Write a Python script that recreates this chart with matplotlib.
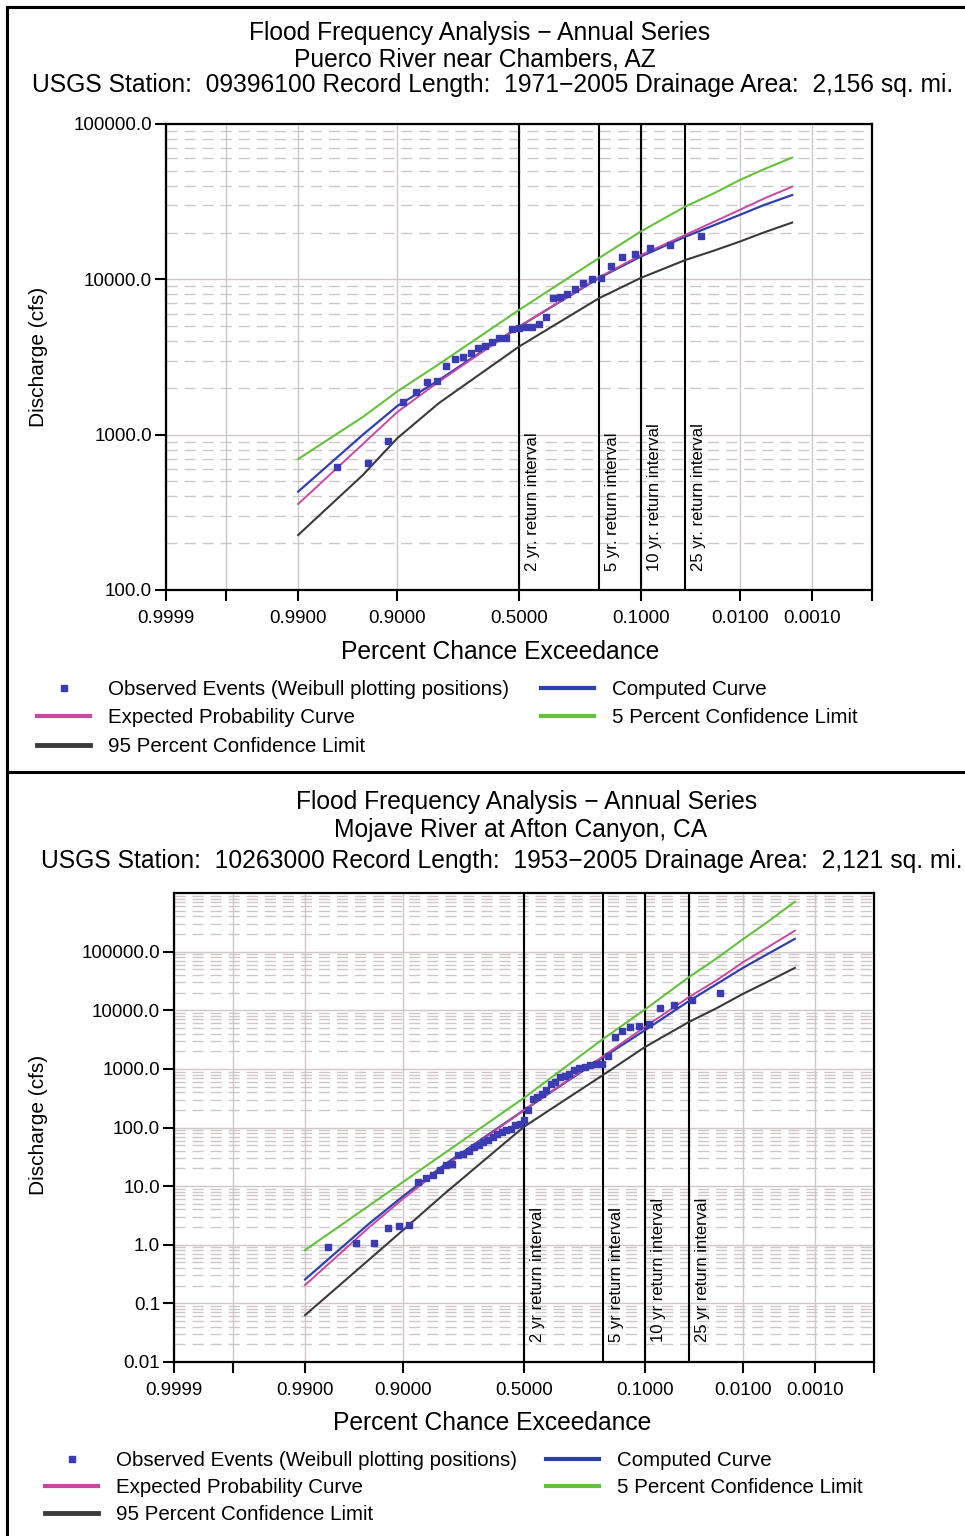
import numpy as np
import matplotlib
matplotlib.use('Agg')
import matplotlib.pyplot as plt
from matplotlib.lines import Line2D
from matplotlib.ticker import FixedLocator, FixedFormatter, LogLocator, NullFormatter
from matplotlib.transforms import blended_transform_factory, offset_copy
from statistics import NormalDist

plt.rcParams['font.family'] = ['Liberation Sans', 'DejaVu Sans']

# ---------------- data ----------------
curve_p = [0.99, 0.95, 0.9, 0.8, 0.5, 0.2, 0.1, 0.04, 0.02, 0.01, 0.005, 0.002]

# Puerco River near Chambers, AZ
top_obs_p = [0.0278, 0.0556, 0.0833, 0.1111, 0.1389, 0.1667, 0.1944, 0.2222, 0.2500,
             0.2778, 0.3056, 0.3333, 0.3611, 0.3889, 0.4167, 0.4444, 0.4722, 0.5000,
             0.5278, 0.5556, 0.5833, 0.6111, 0.6389, 0.6667, 0.6944, 0.7222, 0.7500,
             0.7778, 0.8056, 0.8333, 0.8611, 0.8889, 0.9167, 0.9444, 0.9722]
top_obs_q = [19000, 16600, 15850, 14600, 13900, 12250, 10150, 10100, 9440,
             8630, 8050, 7740, 7560, 5760, 5170, 4950, 4900, 4850,
             4800, 4200, 4170, 3970, 3720, 3600, 3340, 3180, 3060,
             2770, 2200, 2170, 1890, 1630, 915, 660, 622]
top_computed = [430, 1000, 1530, 2250, 4950, 10200, 14000, 18800, 22300, 26000, 30000, 34900]
top_expected = [358, 870, 1400, 2200, 4950, 10300, 14300, 19300, 23500, 28000, 33000, 39500]
top_conf05 = [697, 1300, 1900, 2850, 6350, 13700, 20300, 29400, 35800, 43600, 51000, 60800]
top_conf95 = [226, 550, 950, 1600, 3690, 7550, 10200, 13300, 15300, 17500, 20000, 23200]

# Mojave River at Afton Canyon, CA
bot_obs_p = [0.0185, 0.0370, 0.0556, 0.0741, 0.0926, 0.1111, 0.1296, 0.1481, 0.1667,
             0.1852, 0.2037, 0.2222, 0.2407, 0.2593, 0.2778, 0.2963, 0.3148, 0.3333,
             0.3519, 0.3704, 0.3889, 0.4074, 0.4259, 0.4444, 0.4630, 0.4815, 0.5000,
             0.5185, 0.5370, 0.5556, 0.5741, 0.5926, 0.6111, 0.6296, 0.6481, 0.6667,
             0.6852, 0.7037, 0.7222, 0.7407, 0.7593, 0.7778, 0.7963, 0.8148, 0.8333,
             0.8519, 0.8704, 0.8889, 0.9074, 0.9259, 0.9444, 0.9630, 0.9815]
bot_obs_q = [19500, 15100, 12500, 11000, 5880, 5350, 5140, 4390, 3470,
             1630, 1230, 1200, 1150, 1072, 1047, 950, 826, 760,
             724, 595, 550, 430, 380, 330, 310, 196, 136,
             116, 109, 95.5, 90, 83.8, 78.5, 68.8, 62, 56.5,
             50, 46.5, 40, 35.9, 33.5, 24, 22.6, 18.6, 15.3,
             13.5, 11.8, 2.14, 2.07, 1.94, 1.07, 1.07, 0.92]
bot_computed = [0.256, 2.3, 6.8, 23.4, 198, 1580, 4520, 14300, 28400, 52800, 88700, 165000]
bot_expected = [0.205, 1.99, 6.15, 21.8, 198, 1650, 5150, 16700, 33000, 65800, 115000, 228000]
bot_conf05 = [0.81, 4.67, 11.9, 36.8, 320, 3250, 10200, 36500, 78000, 163000, 310000, 710000]
bot_conf95 = [0.063, 0.56, 1.8, 7.5, 103, 790, 2340, 6300, 11000, 19000, 30000, 52800]

x_ticks = [0.9999, 0.999, 0.99, 0.9, 0.5, 0.1, 0.01, 0.001, 0.0001]
x_labels = ['0.9999', '', '0.9900', '0.9000', '0.5000', '0.1000', '0.0100', '0.0010', '']
ri_p = [0.5, 0.2, 0.1, 0.04]
top_ri_labels = ['2 yr. return interval', '5 yr. return interval',
                 '10 yr. return interval', '25 yr. return interval']
bot_ri_labels = ['2 yr return interval', '5 yr return interval',
                 '10 yr return interval', '25 yr return interval']

top_yticks = [100, 1000, 10000, 100000]
top_ylabels = ['100.0', '1000.0', '10000.0', '100000.0']
bot_yticks = [0.01, 0.1, 1, 10, 100, 1000, 10000, 100000]
bot_ylabels = ['0.01', '0.1', '1.0', '10.0', '100.0', '1000.0', '10000.0', '100000.0']

top_title = ['Flood Frequency Analysis \u2212 Annual Series',
             'Puerco River near Chambers, AZ',
             'USGS Station:  09396100 Record Length:  1971\u22122005 Drainage Area:  2,156 sq. mi.']
bot_title = ['Flood Frequency Analysis \u2212 Annual Series',
             'Mojave River at Afton Canyon, CA',
             'USGS Station:  10263000 Record Length:  1953\u22122005 Drainage Area:  2,121 sq. mi.']

legend_labels = ['Observed Events (Weibull plotting positions)', 'Expected Probability Curve',
                 '95 Percent Confidence Limit', 'Computed Curve', '5 Percent Confidence Limit']

# ---------------- style ----------------
C_OBS = '#3b3bb3'
C_COMP = '#2e3fae'
C_EXP = '#c8489f'
C_C05 = '#63c23c'
C_C95 = '#3a3a3a'
GRID = '#cfc6c6'

W, H = 965, 1536
fig = plt.figure(figsize=(W / 100, H / 100), dpi=100)
fig.patch.set_facecolor('white')


def fx(x):
    return x / W


def fy(y):
    return 1 - y / H


ND = NormalDist()


def fwd(p):
    p = np.clip(np.asarray(p, dtype=float), 1e-9, 1 - 1e-9)
    return np.vectorize(ND.inv_cdf, otypes=[float])(p)


def inv(z):
    return np.vectorize(ND.cdf, otypes=[float])(np.asarray(z, dtype=float))


def panel(left, top, right, bottom, ylim, yticks, ylabels, obs_p, obs_q,
          comp, expc, c05, c95, ri_labels, ri_yfrac, titles, title_pos,
          ylab_pos, xlab_pos, leg1_pos, leg2_pos, leg_pitch):
    ax = fig.add_axes([fx(left), fy(bottom), fx(right - left), (bottom - top) / H])
    ax.set_xscale('function', functions=(fwd, inv))
    ax.set_yscale('log')
    ax.set_xlim(0.9999, 0.0001)
    ax.set_ylim(*ylim)
    ax.xaxis.set_major_locator(FixedLocator(x_ticks))
    ax.xaxis.set_major_formatter(FixedFormatter(x_labels))
    ax.xaxis.set_minor_locator(FixedLocator([]))
    ax.yaxis.set_major_locator(FixedLocator(yticks))
    ax.yaxis.set_major_formatter(FixedFormatter(ylabels))
    ax.yaxis.set_minor_locator(LogLocator(base=10, subs=np.arange(2, 10), numticks=50))
    ax.yaxis.set_minor_formatter(NullFormatter())
    ax.tick_params(which='major', direction='out', length=8, width=1.5, labelsize=13.5,
                   colors='black')
    ax.tick_params(axis='x', which='major', pad=6.5)
    ax.tick_params(axis='y', which='major', pad=2)
    ax.tick_params(which='minor', length=0)
    ax.grid(which='major', axis='both', color=GRID, lw=1.0, ls='-')
    ax.grid(which='minor', axis='y', color=GRID, lw=1.0, ls=(0, (8, 5)))
    ax.set_axisbelow(True)
    for s in ax.spines.values():
        s.set_linewidth(1.6)
        s.set_color('black')

    # return interval lines
    trans = blended_transform_factory(ax.transData, ax.transAxes)
    for p, lab in zip(ri_p, ri_labels):
        ax.axvline(p, color='black', lw=1.5, zorder=2)
        ax.text(p, ri_yfrac, lab, rotation=90, ha='left', va='bottom', fontsize=12,
                transform=offset_copy(trans, fig=fig, x=6, y=0, units='dots'), zorder=3)

    ax.plot(curve_p, c95, color=C_C95, lw=1.5, zorder=4)
    ax.plot(curve_p, c05, color=C_C05, lw=1.5, zorder=4)
    ax.plot(curve_p, comp, color=C_COMP, lw=1.6, zorder=5)
    ax.plot(curve_p, expc, color=C_EXP, lw=1.4, zorder=5)
    ax.plot(obs_p, obs_q, ls='none', marker='s', ms=5, color=C_OBS, mec=C_OBS, zorder=6)

    for (tx, ty), t in zip(title_pos, titles):
        fig.text(fx(tx), fy(ty), t, ha='center', va='center', fontsize=17.7)
    fig.text(fx(ylab_pos[0]), fy(ylab_pos[1]), 'Discharge (cfs)', rotation=90,
             ha='center', va='center', fontsize=15)
    fig.text(fx(xlab_pos[0]), fy(xlab_pos[1]), 'Percent Chance Exceedance',
             ha='center', va='center', fontsize=17.7)

    h_obs = Line2D([], [], ls='none', marker='s', ms=4, color=C_OBS)
    h_exp = Line2D([], [], color=C_EXP, lw=3)
    h_c95 = Line2D([], [], color=C_C95, lw=3.5)
    h_comp = Line2D([], [], color=C_COMP, lw=3)
    h_c05 = Line2D([], [], color=C_C05, lw=3)
    fs = 14.75
    fpx = fs * 100 / 72
    kw = dict(frameon=False, fontsize=fs, borderpad=0, borderaxespad=0,
              handlelength=53 / fpx, handletextpad=18 / fpx,
              labelspacing=(leg_pitch - 19.3) / fpx, loc='upper left')
    fig.legend([h_obs, h_exp, h_c95], legend_labels[:3],
               bbox_to_anchor=(fx(leg1_pos[0]), fy(leg1_pos[1])), **kw)
    fig.legend([h_comp, h_c05], legend_labels[3:],
               bbox_to_anchor=(fx(leg2_pos[0]), fy(leg2_pos[1])), **kw)
    return ax


panel(166, 124, 872, 590, (100, 100000), top_yticks, top_ylabels, top_obs_p, top_obs_q,
      top_computed, top_expected, top_conf05, top_conf95, top_ri_labels, 0.04,
      top_title, [(480, 33), (475, 59), (493, 85)], (38, 357), (500, 652),
      (37, 680), (541, 680), 28.7)

panel(174, 893, 874, 1362, (0.01, 1000000), bot_yticks, bot_ylabels, bot_obs_p, bot_obs_q,
      bot_computed, bot_expected, bot_conf05, bot_conf95, bot_ri_labels, 0.043,
      bot_title, [(527, 802), (521, 830), (502, 861)], (38, 1125), (492, 1423),
      (45, 1451), (546, 1451), 27.2)

# panel frames
for seg in [((7, 7), (7, H)), ((7, 7), (W, 7)), ((7, 772), (W, 772))]:
    (x0, y0), (x1, y1) = seg
    fig.add_artist(Line2D([fx(x0), fx(x1)], [fy(y0), fy(y1)], color='black', lw=2.2,
                          transform=fig.transFigure))

fig.savefig('out.png', dpi=100, facecolor='white')
